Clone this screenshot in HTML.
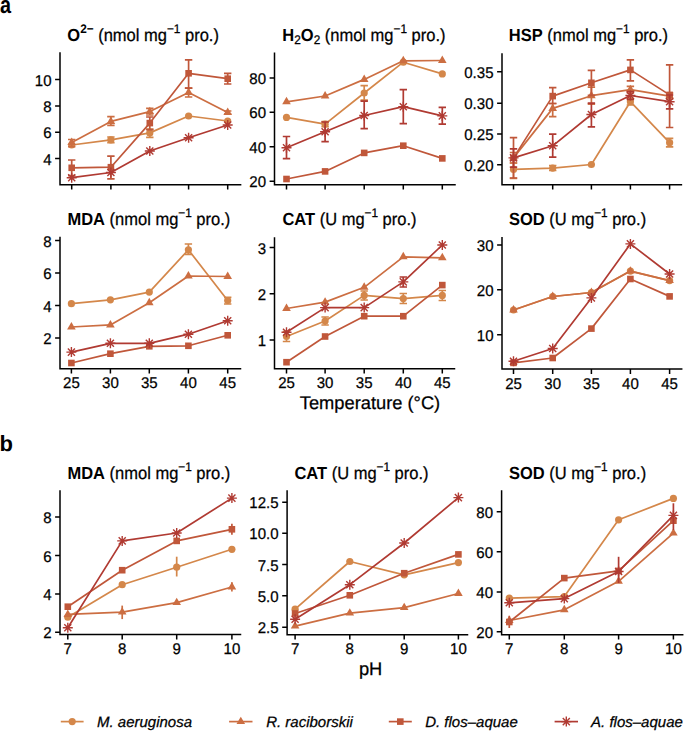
<!DOCTYPE html>
<html><head><meta charset="utf-8"><style>
html,body{margin:0;padding:0;background:#fff;}
svg{display:block;}
text{font-family:"Liberation Sans",sans-serif;fill:#000;text-rendering:geometricPrecision;stroke:#000;stroke-width:0.25px;}
.b{stroke-width:0;}
</style></head><body>
<svg width="685" height="731" viewBox="0 0 685 731">
<rect width="685" height="731" fill="#fff"/>
<text transform="translate(0,12.5) scale(0.9,1.1)" font-size="22" font-weight="bold" class="b">a</text>
<text x="-0.5" y="450.7" font-size="22" font-weight="bold" class="b">b</text>
<path d="M110.90 137.00V142.70" stroke="#D4874A" stroke-width="1.7"/>
<path d="M107.20 137.00H114.60M107.20 142.70H114.60" stroke="#D4874A" stroke-width="1.7"/>
<path d="M149.80 129.00V137.40" stroke="#D4874A" stroke-width="1.7"/>
<path d="M146.10 129.00H153.50M146.10 137.40H153.50" stroke="#D4874A" stroke-width="1.7"/>
<path d="M71.70 145.00 L110.90 139.80 L149.80 132.90 L188.60 116.00 L227.70 121.00" stroke="#D4874A" stroke-width="1.7" fill="none" stroke-linejoin="round"/>
<circle cx="71.70" cy="145.00" r="3.6" fill="#D4874A"/>
<circle cx="110.90" cy="139.80" r="3.6" fill="#D4874A"/>
<circle cx="149.80" cy="132.90" r="3.6" fill="#D4874A"/>
<circle cx="188.60" cy="116.00" r="3.6" fill="#D4874A"/>
<circle cx="227.70" cy="121.00" r="3.6" fill="#D4874A"/>
<path d="M71.70 139.50V146.60" stroke="#CC6E42" stroke-width="1.7"/>
<path d="M68.00 139.50H75.40M68.00 146.60H75.40" stroke="#CC6E42" stroke-width="1.7"/>
<path d="M110.90 116.60V125.40" stroke="#CC6E42" stroke-width="1.7"/>
<path d="M107.20 116.60H114.60M107.20 125.40H114.60" stroke="#CC6E42" stroke-width="1.7"/>
<path d="M149.80 108.40V115.00" stroke="#CC6E42" stroke-width="1.7"/>
<path d="M146.10 108.40H153.50M146.10 115.00H153.50" stroke="#CC6E42" stroke-width="1.7"/>
<path d="M188.60 88.10V97.00" stroke="#CC6E42" stroke-width="1.7"/>
<path d="M184.90 88.10H192.30M184.90 97.00H192.30" stroke="#CC6E42" stroke-width="1.7"/>
<path d="M227.70 111.00V114.00" stroke="#CC6E42" stroke-width="1.7"/>
<path d="M224.00 111.00H231.40M224.00 114.00H231.40" stroke="#CC6E42" stroke-width="1.7"/>
<path d="M71.70 142.50 L110.90 121.40 L149.80 111.60 L188.60 92.40 L227.70 112.50" stroke="#CC6E42" stroke-width="1.7" fill="none" stroke-linejoin="round"/>
<polygon points="71.70,137.53 67.40,144.98 76.00,144.98" fill="#CC6E42"/>
<polygon points="110.90,116.43 106.60,123.88 115.20,123.88" fill="#CC6E42"/>
<polygon points="149.80,106.63 145.50,114.08 154.10,114.08" fill="#CC6E42"/>
<polygon points="188.60,87.43 184.30,94.88 192.90,94.88" fill="#CC6E42"/>
<polygon points="227.70,107.53 223.40,114.98 232.00,114.98" fill="#CC6E42"/>
<path d="M71.70 160.00V175.60" stroke="#C0573A" stroke-width="1.7"/>
<path d="M68.00 160.00H75.40M68.00 175.60H75.40" stroke="#C0573A" stroke-width="1.7"/>
<path d="M110.90 156.10V178.90" stroke="#C0573A" stroke-width="1.7"/>
<path d="M107.20 156.10H114.60M107.20 178.90H114.60" stroke="#C0573A" stroke-width="1.7"/>
<path d="M149.80 117.00V129.70" stroke="#C0573A" stroke-width="1.7"/>
<path d="M146.10 117.00H153.50M146.10 129.70H153.50" stroke="#C0573A" stroke-width="1.7"/>
<path d="M188.60 59.90V88.10" stroke="#C0573A" stroke-width="1.7"/>
<path d="M184.90 59.90H192.30M184.90 88.10H192.30" stroke="#C0573A" stroke-width="1.7"/>
<path d="M227.70 73.30V84.00" stroke="#C0573A" stroke-width="1.7"/>
<path d="M224.00 73.30H231.40M224.00 84.00H231.40" stroke="#C0573A" stroke-width="1.7"/>
<path d="M71.70 167.80 L110.90 167.20 L149.80 123.10 L188.60 73.30 L227.70 78.70" stroke="#C0573A" stroke-width="1.7" fill="none" stroke-linejoin="round"/>
<rect x="68.40" y="164.50" width="6.6" height="6.6" fill="#C0573A"/>
<rect x="107.60" y="163.90" width="6.6" height="6.6" fill="#C0573A"/>
<rect x="146.50" y="119.80" width="6.6" height="6.6" fill="#C0573A"/>
<rect x="185.30" y="70.00" width="6.6" height="6.6" fill="#C0573A"/>
<rect x="224.40" y="75.40" width="6.6" height="6.6" fill="#C0573A"/>
<path d="M71.70 177.70 L110.90 172.50 L149.80 151.00 L188.60 137.70 L227.70 125.00" stroke="#B03A32" stroke-width="1.7" fill="none" stroke-linejoin="round"/>
<path d="M66.70 177.70H76.70M71.70 172.70V182.70M68.16 174.16L75.24 181.24M68.16 181.24L75.24 174.16" stroke="#B03A32" stroke-width="1.4" fill="none"/>
<path d="M105.90 172.50H115.90M110.90 167.50V177.50M107.36 168.96L114.44 176.04M107.36 176.04L114.44 168.96" stroke="#B03A32" stroke-width="1.4" fill="none"/>
<path d="M144.80 151.00H154.80M149.80 146.00V156.00M146.26 147.46L153.34 154.54M146.26 154.54L153.34 147.46" stroke="#B03A32" stroke-width="1.4" fill="none"/>
<path d="M183.60 137.70H193.60M188.60 132.70V142.70M185.06 134.16L192.14 141.24M185.06 141.24L192.14 134.16" stroke="#B03A32" stroke-width="1.4" fill="none"/>
<path d="M222.70 125.00H232.70M227.70 120.00V130.00M224.16 121.46L231.24 128.54M224.16 128.54L231.24 121.46" stroke="#B03A32" stroke-width="1.4" fill="none"/>
<path d="M60.0 53.1V184.7H240.6" stroke="#000" stroke-width="1.5" fill="none" stroke-linecap="square"/>
<path d="M71.7 184.7v4.9M110.9 184.7v4.9M149.8 184.7v4.9M188.6 184.7v4.9M227.7 184.7v4.9M60.0 158.5h-4.9M60.0 132.3h-4.9M60.0 106.0h-4.9M60.0 79.6h-4.9" stroke="#000" stroke-width="1.5"/>
<text transform="translate(51.50,164.60) scale(0.97,1.0)" text-anchor="end" font-size="15.5">4</text>
<text transform="translate(51.50,138.40) scale(0.97,1.0)" text-anchor="end" font-size="15.5">6</text>
<text transform="translate(51.50,112.10) scale(0.97,1.0)" text-anchor="end" font-size="15.5">8</text>
<text transform="translate(51.50,85.70) scale(0.97,1.0)" text-anchor="end" font-size="15.5">10</text>
<text transform="translate(67.3,41) scale(1,1.06)" font-size="16.5"><tspan font-weight="bold" class="b">O</tspan><tspan font-size="11.8" font-weight="bold" class="b" dy="-7.7">2−</tspan><tspan dy="7.7"> (nmol mg</tspan><tspan font-size="11.8" dy="-7.7">−1</tspan><tspan dy="7.7"> pro.)</tspan></text>
<path d="M325.10 121.70V126.70" stroke="#D4874A" stroke-width="1.7"/>
<path d="M321.40 121.70H328.80M321.40 126.70H328.80" stroke="#D4874A" stroke-width="1.7"/>
<path d="M364.20 85.60V100.10" stroke="#D4874A" stroke-width="1.7"/>
<path d="M360.50 85.60H367.90M360.50 100.10H367.90" stroke="#D4874A" stroke-width="1.7"/>
<path d="M286.50 117.40 L325.10 124.20 L364.20 93.00 L403.30 62.20 L442.30 73.90" stroke="#D4874A" stroke-width="1.7" fill="none" stroke-linejoin="round"/>
<circle cx="286.50" cy="117.40" r="3.6" fill="#D4874A"/>
<circle cx="325.10" cy="124.20" r="3.6" fill="#D4874A"/>
<circle cx="364.20" cy="93.00" r="3.6" fill="#D4874A"/>
<circle cx="403.30" cy="62.20" r="3.6" fill="#D4874A"/>
<circle cx="442.30" cy="73.90" r="3.6" fill="#D4874A"/>
<path d="M286.50 101.80 L325.10 96.00 L364.20 79.40 L403.30 60.80 L442.30 60.50" stroke="#CC6E42" stroke-width="1.7" fill="none" stroke-linejoin="round"/>
<polygon points="286.50,96.83 282.20,104.28 290.80,104.28" fill="#CC6E42"/>
<polygon points="325.10,91.03 320.80,98.48 329.40,98.48" fill="#CC6E42"/>
<polygon points="364.20,74.43 359.90,81.88 368.50,81.88" fill="#CC6E42"/>
<polygon points="403.30,55.83 399.00,63.28 407.60,63.28" fill="#CC6E42"/>
<polygon points="442.30,55.53 438.00,62.98 446.60,62.98" fill="#CC6E42"/>
<path d="M286.50 179.00 L325.10 171.40 L364.20 152.90 L403.30 145.70 L442.30 158.40" stroke="#C0573A" stroke-width="1.7" fill="none" stroke-linejoin="round"/>
<rect x="283.20" y="175.70" width="6.6" height="6.6" fill="#C0573A"/>
<rect x="321.80" y="168.10" width="6.6" height="6.6" fill="#C0573A"/>
<rect x="360.90" y="149.60" width="6.6" height="6.6" fill="#C0573A"/>
<rect x="400.00" y="142.40" width="6.6" height="6.6" fill="#C0573A"/>
<rect x="439.00" y="155.10" width="6.6" height="6.6" fill="#C0573A"/>
<path d="M286.50 136.50V158.70" stroke="#B03A32" stroke-width="1.7"/>
<path d="M282.80 136.50H290.20M282.80 158.70H290.20" stroke="#B03A32" stroke-width="1.7"/>
<path d="M325.10 122.00V141.60" stroke="#B03A32" stroke-width="1.7"/>
<path d="M321.40 122.00H328.80M321.40 141.60H328.80" stroke="#B03A32" stroke-width="1.7"/>
<path d="M364.20 101.20V128.70" stroke="#B03A32" stroke-width="1.7"/>
<path d="M360.50 101.20H367.90M360.50 128.70H367.90" stroke="#B03A32" stroke-width="1.7"/>
<path d="M403.30 89.70V123.70" stroke="#B03A32" stroke-width="1.7"/>
<path d="M399.60 89.70H407.00M399.60 123.70H407.00" stroke="#B03A32" stroke-width="1.7"/>
<path d="M442.30 107.30V124.10" stroke="#B03A32" stroke-width="1.7"/>
<path d="M438.60 107.30H446.00M438.60 124.10H446.00" stroke="#B03A32" stroke-width="1.7"/>
<path d="M286.50 147.80 L325.10 131.80 L364.20 115.50 L403.30 106.70 L442.30 115.90" stroke="#B03A32" stroke-width="1.7" fill="none" stroke-linejoin="round"/>
<path d="M281.50 147.80H291.50M286.50 142.80V152.80M282.96 144.26L290.04 151.34M282.96 151.34L290.04 144.26" stroke="#B03A32" stroke-width="1.4" fill="none"/>
<path d="M320.10 131.80H330.10M325.10 126.80V136.80M321.56 128.26L328.64 135.34M321.56 135.34L328.64 128.26" stroke="#B03A32" stroke-width="1.4" fill="none"/>
<path d="M359.20 115.50H369.20M364.20 110.50V120.50M360.66 111.96L367.74 119.04M360.66 119.04L367.74 111.96" stroke="#B03A32" stroke-width="1.4" fill="none"/>
<path d="M398.30 106.70H408.30M403.30 101.70V111.70M399.76 103.16L406.84 110.24M399.76 110.24L406.84 103.16" stroke="#B03A32" stroke-width="1.4" fill="none"/>
<path d="M437.30 115.90H447.30M442.30 110.90V120.90M438.76 112.36L445.84 119.44M438.76 119.44L445.84 112.36" stroke="#B03A32" stroke-width="1.4" fill="none"/>
<path d="M274.5 53.3V184.7H455.0" stroke="#000" stroke-width="1.5" fill="none" stroke-linecap="square"/>
<path d="M286.5 184.7v4.9M325.1 184.7v4.9M364.2 184.7v4.9M403.3 184.7v4.9M442.3 184.7v4.9M274.5 181.2h-4.9M274.5 146.8h-4.9M274.5 112.3h-4.9M274.5 78.0h-4.9" stroke="#000" stroke-width="1.5"/>
<text transform="translate(266.00,187.30) scale(0.97,1.0)" text-anchor="end" font-size="15.5">20</text>
<text transform="translate(266.00,152.90) scale(0.97,1.0)" text-anchor="end" font-size="15.5">40</text>
<text transform="translate(266.00,118.40) scale(0.97,1.0)" text-anchor="end" font-size="15.5">60</text>
<text transform="translate(266.00,84.10) scale(0.97,1.0)" text-anchor="end" font-size="15.5">80</text>
<text transform="translate(282.3,41) scale(1,1.06)" font-size="16.5"><tspan font-weight="bold" class="b">H</tspan><tspan font-size="11.8" dy="2.5">2</tspan><tspan font-weight="bold" class="b" dy="-2.5">O</tspan><tspan font-size="11.8" dy="2.5">2</tspan><tspan dy="-2.5"> (nmol mg</tspan><tspan font-size="11.8" dy="-7.7">−1</tspan><tspan dy="7.7"> pro.)</tspan></text>
<path d="M513.50 163.00V178.40" stroke="#D4874A" stroke-width="1.7"/>
<path d="M509.80 163.00H517.20M509.80 178.40H517.20" stroke="#D4874A" stroke-width="1.7"/>
<path d="M552.70 165.50V170.50" stroke="#D4874A" stroke-width="1.7"/>
<path d="M549.00 165.50H556.40M549.00 170.50H556.40" stroke="#D4874A" stroke-width="1.7"/>
<path d="M630.40 98.50V105.00" stroke="#D4874A" stroke-width="1.7"/>
<path d="M626.70 98.50H634.10M626.70 105.00H634.10" stroke="#D4874A" stroke-width="1.7"/>
<path d="M669.60 138.40V146.90" stroke="#D4874A" stroke-width="1.7"/>
<path d="M665.90 138.40H673.30M665.90 146.90H673.30" stroke="#D4874A" stroke-width="1.7"/>
<path d="M513.50 169.40 L552.70 168.10 L591.40 164.50 L630.40 101.70 L669.60 142.70" stroke="#D4874A" stroke-width="1.7" fill="none" stroke-linejoin="round"/>
<circle cx="513.50" cy="169.40" r="3.6" fill="#D4874A"/>
<circle cx="552.70" cy="168.10" r="3.6" fill="#D4874A"/>
<circle cx="591.40" cy="164.50" r="3.6" fill="#D4874A"/>
<circle cx="630.40" cy="101.70" r="3.6" fill="#D4874A"/>
<circle cx="669.60" cy="142.70" r="3.6" fill="#D4874A"/>
<path d="M513.50 152.50V163.00" stroke="#CC6E42" stroke-width="1.7"/>
<path d="M509.80 152.50H517.20M509.80 163.00H517.20" stroke="#CC6E42" stroke-width="1.7"/>
<path d="M552.70 103.50V116.60" stroke="#CC6E42" stroke-width="1.7"/>
<path d="M549.00 103.50H556.40M549.00 116.60H556.40" stroke="#CC6E42" stroke-width="1.7"/>
<path d="M591.40 87.20V104.10" stroke="#CC6E42" stroke-width="1.7"/>
<path d="M587.70 87.20H595.10M587.70 104.10H595.10" stroke="#CC6E42" stroke-width="1.7"/>
<path d="M630.40 86.30V93.00" stroke="#CC6E42" stroke-width="1.7"/>
<path d="M626.70 86.30H634.10M626.70 93.00H634.10" stroke="#CC6E42" stroke-width="1.7"/>
<path d="M669.60 93.00V99.00" stroke="#CC6E42" stroke-width="1.7"/>
<path d="M665.90 93.00H673.30M665.90 99.00H673.30" stroke="#CC6E42" stroke-width="1.7"/>
<path d="M513.50 157.90 L552.70 108.40 L591.40 95.70 L630.40 89.60 L669.60 96.10" stroke="#CC6E42" stroke-width="1.7" fill="none" stroke-linejoin="round"/>
<polygon points="513.50,152.93 509.20,160.38 517.80,160.38" fill="#CC6E42"/>
<polygon points="552.70,103.43 548.40,110.88 557.00,110.88" fill="#CC6E42"/>
<polygon points="591.40,90.73 587.10,98.18 595.70,98.18" fill="#CC6E42"/>
<polygon points="630.40,84.63 626.10,92.08 634.70,92.08" fill="#CC6E42"/>
<polygon points="669.60,91.13 665.30,98.58 673.90,98.58" fill="#CC6E42"/>
<path d="M513.50 137.70V178.00" stroke="#C0573A" stroke-width="1.7"/>
<path d="M509.80 137.70H517.20M509.80 178.00H517.20" stroke="#C0573A" stroke-width="1.7"/>
<path d="M552.70 87.60V103.50" stroke="#C0573A" stroke-width="1.7"/>
<path d="M549.00 87.60H556.40M549.00 103.50H556.40" stroke="#C0573A" stroke-width="1.7"/>
<path d="M591.40 70.30V95.30" stroke="#C0573A" stroke-width="1.7"/>
<path d="M587.70 70.30H595.10M587.70 95.30H595.10" stroke="#C0573A" stroke-width="1.7"/>
<path d="M630.40 59.80V80.80" stroke="#C0573A" stroke-width="1.7"/>
<path d="M626.70 59.80H634.10M626.70 80.80H634.10" stroke="#C0573A" stroke-width="1.7"/>
<path d="M669.60 64.80V127.50" stroke="#C0573A" stroke-width="1.7"/>
<path d="M665.90 64.80H673.30M665.90 127.50H673.30" stroke="#C0573A" stroke-width="1.7"/>
<path d="M513.50 157.90 L552.70 96.10 L591.40 82.80 L630.40 69.90 L669.60 94.90" stroke="#C0573A" stroke-width="1.7" fill="none" stroke-linejoin="round"/>
<rect x="510.20" y="154.60" width="6.6" height="6.6" fill="#C0573A"/>
<rect x="549.40" y="92.80" width="6.6" height="6.6" fill="#C0573A"/>
<rect x="588.10" y="79.50" width="6.6" height="6.6" fill="#C0573A"/>
<rect x="627.10" y="66.60" width="6.6" height="6.6" fill="#C0573A"/>
<rect x="666.30" y="91.60" width="6.6" height="6.6" fill="#C0573A"/>
<path d="M513.50 148.80V167.10" stroke="#B03A32" stroke-width="1.7"/>
<path d="M509.80 148.80H517.20M509.80 167.10H517.20" stroke="#B03A32" stroke-width="1.7"/>
<path d="M552.70 134.20V157.10" stroke="#B03A32" stroke-width="1.7"/>
<path d="M549.00 134.20H556.40M549.00 157.10H556.40" stroke="#B03A32" stroke-width="1.7"/>
<path d="M591.40 103.10V126.80" stroke="#B03A32" stroke-width="1.7"/>
<path d="M587.70 103.10H595.10M587.70 126.80H595.10" stroke="#B03A32" stroke-width="1.7"/>
<path d="M630.40 91.50V99.50" stroke="#B03A32" stroke-width="1.7"/>
<path d="M626.70 91.50H634.10M626.70 99.50H634.10" stroke="#B03A32" stroke-width="1.7"/>
<path d="M669.60 95.00V108.80" stroke="#B03A32" stroke-width="1.7"/>
<path d="M665.90 95.00H673.30M665.90 108.80H673.30" stroke="#B03A32" stroke-width="1.7"/>
<path d="M513.50 157.90 L552.70 145.80 L591.40 114.50 L630.40 95.50 L669.60 101.70" stroke="#B03A32" stroke-width="1.7" fill="none" stroke-linejoin="round"/>
<path d="M508.50 157.90H518.50M513.50 152.90V162.90M509.96 154.36L517.04 161.44M509.96 161.44L517.04 154.36" stroke="#B03A32" stroke-width="1.4" fill="none"/>
<path d="M547.70 145.80H557.70M552.70 140.80V150.80M549.16 142.26L556.24 149.34M549.16 149.34L556.24 142.26" stroke="#B03A32" stroke-width="1.4" fill="none"/>
<path d="M586.40 114.50H596.40M591.40 109.50V119.50M587.86 110.96L594.94 118.04M587.86 118.04L594.94 110.96" stroke="#B03A32" stroke-width="1.4" fill="none"/>
<path d="M625.40 95.50H635.40M630.40 90.50V100.50M626.86 91.96L633.94 99.04M626.86 99.04L633.94 91.96" stroke="#B03A32" stroke-width="1.4" fill="none"/>
<path d="M664.60 101.70H674.60M669.60 96.70V106.70M666.06 98.16L673.14 105.24M666.06 105.24L673.14 98.16" stroke="#B03A32" stroke-width="1.4" fill="none"/>
<path d="M502.0 53.9V184.7H681.4" stroke="#000" stroke-width="1.5" fill="none" stroke-linecap="square"/>
<path d="M513.5 184.7v4.9M552.7 184.7v4.9M591.4 184.7v4.9M630.4 184.7v4.9M669.6 184.7v4.9M502.0 164.7h-4.9M502.0 133.9h-4.9M502.0 103.2h-4.9M502.0 71.8h-4.9" stroke="#000" stroke-width="1.5"/>
<text transform="translate(493.50,170.80) scale(0.97,1.0)" text-anchor="end" font-size="15.5">0.20</text>
<text transform="translate(493.50,140.00) scale(0.97,1.0)" text-anchor="end" font-size="15.5">0.25</text>
<text transform="translate(493.50,109.30) scale(0.97,1.0)" text-anchor="end" font-size="15.5">0.30</text>
<text transform="translate(493.50,77.90) scale(0.97,1.0)" text-anchor="end" font-size="15.5">0.35</text>
<text transform="translate(508.8,41) scale(1,1.06)" font-size="16.5"><tspan font-weight="bold" class="b">HSP</tspan><tspan> (nmol mg</tspan><tspan font-size="11.8" dy="-7.7">−1</tspan><tspan dy="7.7"> pro.)</tspan></text>
<path d="M188.40 244.00V254.40" stroke="#D4874A" stroke-width="1.7"/>
<path d="M184.70 244.00H192.10M184.70 254.40H192.10" stroke="#D4874A" stroke-width="1.7"/>
<path d="M227.70 297.40V304.00" stroke="#D4874A" stroke-width="1.7"/>
<path d="M224.00 297.40H231.40M224.00 304.00H231.40" stroke="#D4874A" stroke-width="1.7"/>
<path d="M71.40 303.70 L110.40 299.80 L149.30 292.10 L188.40 249.80 L227.70 300.50" stroke="#D4874A" stroke-width="1.7" fill="none" stroke-linejoin="round"/>
<circle cx="71.40" cy="303.70" r="3.6" fill="#D4874A"/>
<circle cx="110.40" cy="299.80" r="3.6" fill="#D4874A"/>
<circle cx="149.30" cy="292.10" r="3.6" fill="#D4874A"/>
<circle cx="188.40" cy="249.80" r="3.6" fill="#D4874A"/>
<circle cx="227.70" cy="300.50" r="3.6" fill="#D4874A"/>
<path d="M71.40 327.00 L110.40 324.90 L149.30 302.80 L188.40 276.00 L227.70 276.50" stroke="#CC6E42" stroke-width="1.7" fill="none" stroke-linejoin="round"/>
<polygon points="71.40,322.03 67.10,329.48 75.70,329.48" fill="#CC6E42"/>
<polygon points="110.40,319.93 106.10,327.38 114.70,327.38" fill="#CC6E42"/>
<polygon points="149.30,297.83 145.00,305.28 153.60,305.28" fill="#CC6E42"/>
<polygon points="188.40,271.03 184.10,278.48 192.70,278.48" fill="#CC6E42"/>
<polygon points="227.70,271.53 223.40,278.98 232.00,278.98" fill="#CC6E42"/>
<path d="M71.40 363.00 L110.40 353.70 L149.30 346.30 L188.40 345.80 L227.70 335.30" stroke="#C0573A" stroke-width="1.7" fill="none" stroke-linejoin="round"/>
<rect x="68.10" y="359.70" width="6.6" height="6.6" fill="#C0573A"/>
<rect x="107.10" y="350.40" width="6.6" height="6.6" fill="#C0573A"/>
<rect x="146.00" y="343.00" width="6.6" height="6.6" fill="#C0573A"/>
<rect x="185.10" y="342.50" width="6.6" height="6.6" fill="#C0573A"/>
<rect x="224.40" y="332.00" width="6.6" height="6.6" fill="#C0573A"/>
<path d="M71.40 352.10 L110.40 343.30 L149.30 343.30 L188.40 334.20 L227.70 320.70" stroke="#B03A32" stroke-width="1.7" fill="none" stroke-linejoin="round"/>
<path d="M66.40 352.10H76.40M71.40 347.10V357.10M67.86 348.56L74.94 355.64M67.86 355.64L74.94 348.56" stroke="#B03A32" stroke-width="1.4" fill="none"/>
<path d="M105.40 343.30H115.40M110.40 338.30V348.30M106.86 339.76L113.94 346.84M106.86 346.84L113.94 339.76" stroke="#B03A32" stroke-width="1.4" fill="none"/>
<path d="M144.30 343.30H154.30M149.30 338.30V348.30M145.76 339.76L152.84 346.84M145.76 346.84L152.84 339.76" stroke="#B03A32" stroke-width="1.4" fill="none"/>
<path d="M183.40 334.20H193.40M188.40 329.20V339.20M184.86 330.66L191.94 337.74M184.86 337.74L191.94 330.66" stroke="#B03A32" stroke-width="1.4" fill="none"/>
<path d="M222.70 320.70H232.70M227.70 315.70V325.70M224.16 317.16L231.24 324.24M224.16 324.24L231.24 317.16" stroke="#B03A32" stroke-width="1.4" fill="none"/>
<path d="M60.0 237.5V368.7H240.5" stroke="#000" stroke-width="1.5" fill="none" stroke-linecap="square"/>
<path d="M71.4 368.7v4.9M110.4 368.7v4.9M149.3 368.7v4.9M188.4 368.7v4.9M227.7 368.7v4.9M60.0 338.1h-4.9M60.0 305.6h-4.9M60.0 273.0h-4.9M60.0 240.4h-4.9" stroke="#000" stroke-width="1.5"/>
<text transform="translate(51.50,344.20) scale(0.97,1.0)" text-anchor="end" font-size="15.5">2</text>
<text transform="translate(51.50,311.70) scale(0.97,1.0)" text-anchor="end" font-size="15.5">4</text>
<text transform="translate(51.50,279.10) scale(0.97,1.0)" text-anchor="end" font-size="15.5">6</text>
<text transform="translate(51.50,246.50) scale(0.97,1.0)" text-anchor="end" font-size="15.5">8</text>
<text transform="translate(71.40,388.30) scale(0.97,1.0)" text-anchor="middle" font-size="15.5">25</text>
<text transform="translate(110.40,388.30) scale(0.97,1.0)" text-anchor="middle" font-size="15.5">30</text>
<text transform="translate(149.30,388.30) scale(0.97,1.0)" text-anchor="middle" font-size="15.5">35</text>
<text transform="translate(188.40,388.30) scale(0.97,1.0)" text-anchor="middle" font-size="15.5">40</text>
<text transform="translate(227.70,388.30) scale(0.97,1.0)" text-anchor="middle" font-size="15.5">45</text>
<text transform="translate(67.4,225) scale(1,1.06)" font-size="16.5"><tspan font-weight="bold" class="b">MDA</tspan><tspan> (nmol mg</tspan><tspan font-size="11.8" dy="-7.7">−1</tspan><tspan dy="7.7"> pro.)</tspan></text>
<path d="M286.50 331.50V341.50" stroke="#D4874A" stroke-width="1.7"/>
<path d="M282.80 331.50H290.20M282.80 341.50H290.20" stroke="#D4874A" stroke-width="1.7"/>
<path d="M325.10 317.00V325.00" stroke="#D4874A" stroke-width="1.7"/>
<path d="M321.40 317.00H328.80M321.40 325.00H328.80" stroke="#D4874A" stroke-width="1.7"/>
<path d="M364.20 291.00V300.00" stroke="#D4874A" stroke-width="1.7"/>
<path d="M360.50 291.00H367.90M360.50 300.00H367.90" stroke="#D4874A" stroke-width="1.7"/>
<path d="M403.30 293.50V303.50" stroke="#D4874A" stroke-width="1.7"/>
<path d="M399.60 293.50H407.00M399.60 303.50H407.00" stroke="#D4874A" stroke-width="1.7"/>
<path d="M442.30 290.50V300.50" stroke="#D4874A" stroke-width="1.7"/>
<path d="M438.60 290.50H446.00M438.60 300.50H446.00" stroke="#D4874A" stroke-width="1.7"/>
<path d="M286.50 336.50 L325.10 321.00 L364.20 295.40 L403.30 298.60 L442.30 295.40" stroke="#D4874A" stroke-width="1.7" fill="none" stroke-linejoin="round"/>
<circle cx="286.50" cy="336.50" r="3.6" fill="#D4874A"/>
<circle cx="325.10" cy="321.00" r="3.6" fill="#D4874A"/>
<circle cx="364.20" cy="295.40" r="3.6" fill="#D4874A"/>
<circle cx="403.30" cy="298.60" r="3.6" fill="#D4874A"/>
<circle cx="442.30" cy="295.40" r="3.6" fill="#D4874A"/>
<path d="M286.50 308.50 L325.10 302.10 L364.20 287.30 L403.30 256.80 L442.30 257.80" stroke="#CC6E42" stroke-width="1.7" fill="none" stroke-linejoin="round"/>
<polygon points="286.50,303.53 282.20,310.98 290.80,310.98" fill="#CC6E42"/>
<polygon points="325.10,297.13 320.80,304.58 329.40,304.58" fill="#CC6E42"/>
<polygon points="364.20,282.33 359.90,289.78 368.50,289.78" fill="#CC6E42"/>
<polygon points="403.30,251.83 399.00,259.28 407.60,259.28" fill="#CC6E42"/>
<polygon points="442.30,252.83 438.00,260.28 446.60,260.28" fill="#CC6E42"/>
<path d="M286.50 362.20 L325.10 336.50 L364.20 316.20 L403.30 316.20 L442.30 285.10" stroke="#C0573A" stroke-width="1.7" fill="none" stroke-linejoin="round"/>
<rect x="283.20" y="358.90" width="6.6" height="6.6" fill="#C0573A"/>
<rect x="321.80" y="333.20" width="6.6" height="6.6" fill="#C0573A"/>
<rect x="360.90" y="312.90" width="6.6" height="6.6" fill="#C0573A"/>
<rect x="400.00" y="312.90" width="6.6" height="6.6" fill="#C0573A"/>
<rect x="439.00" y="281.80" width="6.6" height="6.6" fill="#C0573A"/>
<path d="M403.30 277.00V287.00" stroke="#B03A32" stroke-width="1.7"/>
<path d="M399.60 277.00H407.00M399.60 287.00H407.00" stroke="#B03A32" stroke-width="1.7"/>
<path d="M286.50 332.30 L325.10 307.60 L364.20 307.60 L403.30 281.90 L442.30 245.00" stroke="#B03A32" stroke-width="1.7" fill="none" stroke-linejoin="round"/>
<path d="M281.50 332.30H291.50M286.50 327.30V337.30M282.96 328.76L290.04 335.84M282.96 335.84L290.04 328.76" stroke="#B03A32" stroke-width="1.4" fill="none"/>
<path d="M320.10 307.60H330.10M325.10 302.60V312.60M321.56 304.06L328.64 311.14M321.56 311.14L328.64 304.06" stroke="#B03A32" stroke-width="1.4" fill="none"/>
<path d="M359.20 307.60H369.20M364.20 302.60V312.60M360.66 304.06L367.74 311.14M360.66 311.14L367.74 304.06" stroke="#B03A32" stroke-width="1.4" fill="none"/>
<path d="M398.30 281.90H408.30M403.30 276.90V286.90M399.76 278.36L406.84 285.44M399.76 285.44L406.84 278.36" stroke="#B03A32" stroke-width="1.4" fill="none"/>
<path d="M437.30 245.00H447.30M442.30 240.00V250.00M438.76 241.46L445.84 248.54M438.76 248.54L445.84 241.46" stroke="#B03A32" stroke-width="1.4" fill="none"/>
<path d="M274.5 237.9V368.7H454.5" stroke="#000" stroke-width="1.5" fill="none" stroke-linecap="square"/>
<path d="M286.5 368.7v4.9M325.1 368.7v4.9M364.2 368.7v4.9M403.3 368.7v4.9M442.3 368.7v4.9M274.5 340.0h-4.9M274.5 293.8h-4.9M274.5 247.5h-4.9" stroke="#000" stroke-width="1.5"/>
<text transform="translate(266.00,346.10) scale(0.97,1.0)" text-anchor="end" font-size="15.5">1</text>
<text transform="translate(266.00,299.90) scale(0.97,1.0)" text-anchor="end" font-size="15.5">2</text>
<text transform="translate(266.00,253.60) scale(0.97,1.0)" text-anchor="end" font-size="15.5">3</text>
<text transform="translate(286.50,388.30) scale(0.97,1.0)" text-anchor="middle" font-size="15.5">25</text>
<text transform="translate(325.10,388.30) scale(0.97,1.0)" text-anchor="middle" font-size="15.5">30</text>
<text transform="translate(364.20,388.30) scale(0.97,1.0)" text-anchor="middle" font-size="15.5">35</text>
<text transform="translate(403.30,388.30) scale(0.97,1.0)" text-anchor="middle" font-size="15.5">40</text>
<text transform="translate(442.30,388.30) scale(0.97,1.0)" text-anchor="middle" font-size="15.5">45</text>
<text transform="translate(282.4,225) scale(1,1.06)" font-size="16.5"><tspan font-weight="bold" class="b">CAT</tspan><tspan> (U mg</tspan><tspan font-size="11.8" dy="-7.7">−1</tspan><tspan dy="7.7"> pro.)</tspan></text>
<path d="M513.50 310.00 L552.70 296.50 L591.40 292.50 L630.40 271.10 L669.60 280.60" stroke="#D4874A" stroke-width="1.7" fill="none" stroke-linejoin="round"/>
<circle cx="513.50" cy="310.00" r="3.6" fill="#D4874A"/>
<circle cx="552.70" cy="296.50" r="3.6" fill="#D4874A"/>
<circle cx="591.40" cy="292.50" r="3.6" fill="#D4874A"/>
<circle cx="630.40" cy="271.10" r="3.6" fill="#D4874A"/>
<circle cx="669.60" cy="280.60" r="3.6" fill="#D4874A"/>
<path d="M513.50 310.00 L552.70 296.50 L591.40 292.50 L630.40 271.10 L669.60 280.60" stroke="#CC6E42" stroke-width="1.7" fill="none" stroke-linejoin="round"/>
<polygon points="513.50,305.03 509.20,312.48 517.80,312.48" fill="#CC6E42"/>
<polygon points="552.70,291.53 548.40,298.98 557.00,298.98" fill="#CC6E42"/>
<polygon points="591.40,287.53 587.10,294.98 595.70,294.98" fill="#CC6E42"/>
<polygon points="630.40,266.13 626.10,273.58 634.70,273.58" fill="#CC6E42"/>
<polygon points="669.60,275.63 665.30,283.08 673.90,283.08" fill="#CC6E42"/>
<path d="M513.50 362.90 L552.70 358.00 L591.40 328.60 L630.40 279.00 L669.60 296.40" stroke="#C0573A" stroke-width="1.7" fill="none" stroke-linejoin="round"/>
<rect x="510.20" y="359.60" width="6.6" height="6.6" fill="#C0573A"/>
<rect x="549.40" y="354.70" width="6.6" height="6.6" fill="#C0573A"/>
<rect x="588.10" y="325.30" width="6.6" height="6.6" fill="#C0573A"/>
<rect x="627.10" y="275.70" width="6.6" height="6.6" fill="#C0573A"/>
<rect x="666.30" y="293.10" width="6.6" height="6.6" fill="#C0573A"/>
<path d="M513.50 361.30 L552.70 348.50 L591.40 297.90 L630.40 243.90 L669.60 274.00" stroke="#B03A32" stroke-width="1.7" fill="none" stroke-linejoin="round"/>
<path d="M508.50 361.30H518.50M513.50 356.30V366.30M509.96 357.76L517.04 364.84M509.96 364.84L517.04 357.76" stroke="#B03A32" stroke-width="1.4" fill="none"/>
<path d="M547.70 348.50H557.70M552.70 343.50V353.50M549.16 344.96L556.24 352.04M549.16 352.04L556.24 344.96" stroke="#B03A32" stroke-width="1.4" fill="none"/>
<path d="M586.40 297.90H596.40M591.40 292.90V302.90M587.86 294.36L594.94 301.44M587.86 301.44L594.94 294.36" stroke="#B03A32" stroke-width="1.4" fill="none"/>
<path d="M625.40 243.90H635.40M630.40 238.90V248.90M626.86 240.36L633.94 247.44M626.86 247.44L633.94 240.36" stroke="#B03A32" stroke-width="1.4" fill="none"/>
<path d="M664.60 274.00H674.60M669.60 269.00V279.00M666.06 270.46L673.14 277.54M666.06 277.54L673.14 270.46" stroke="#B03A32" stroke-width="1.4" fill="none"/>
<path d="M502.0 237.8V369.0H681.7" stroke="#000" stroke-width="1.5" fill="none" stroke-linecap="square"/>
<path d="M513.5 369.0v4.9M552.7 369.0v4.9M591.4 369.0v4.9M630.4 369.0v4.9M669.6 369.0v4.9M502.0 334.7h-4.9M502.0 289.7h-4.9M502.0 245.0h-4.9" stroke="#000" stroke-width="1.5"/>
<text transform="translate(493.50,340.80) scale(0.97,1.0)" text-anchor="end" font-size="15.5">10</text>
<text transform="translate(493.50,295.80) scale(0.97,1.0)" text-anchor="end" font-size="15.5">20</text>
<text transform="translate(493.50,251.10) scale(0.97,1.0)" text-anchor="end" font-size="15.5">30</text>
<text transform="translate(513.50,388.60) scale(0.97,1.0)" text-anchor="middle" font-size="15.5">25</text>
<text transform="translate(552.70,388.60) scale(0.97,1.0)" text-anchor="middle" font-size="15.5">30</text>
<text transform="translate(591.40,388.60) scale(0.97,1.0)" text-anchor="middle" font-size="15.5">35</text>
<text transform="translate(630.40,388.60) scale(0.97,1.0)" text-anchor="middle" font-size="15.5">40</text>
<text transform="translate(669.60,388.60) scale(0.97,1.0)" text-anchor="middle" font-size="15.5">45</text>
<text transform="translate(508.9,225) scale(1,1.06)" font-size="16.5"><tspan font-weight="bold" class="b">SOD</tspan><tspan> (U mg</tspan><tspan font-size="11.8" dy="-7.7">−1</tspan><tspan dy="7.7"> pro.)</tspan></text>
<path d="M176.70 556.70V576.50" stroke="#D4874A" stroke-width="1.7"/>
<path d="M67.80 617.20 L122.20 584.70 L176.70 567.20 L231.90 549.30" stroke="#D4874A" stroke-width="1.7" fill="none" stroke-linejoin="round"/>
<circle cx="67.80" cy="617.20" r="3.6" fill="#D4874A"/>
<circle cx="122.20" cy="584.70" r="3.6" fill="#D4874A"/>
<circle cx="176.70" cy="567.20" r="3.6" fill="#D4874A"/>
<circle cx="231.90" cy="549.30" r="3.6" fill="#D4874A"/>
<path d="M122.20 605.60V619.10" stroke="#CC6E42" stroke-width="1.7"/>
<path d="M231.90 582.30V591.60" stroke="#CC6E42" stroke-width="1.7"/>
<path d="M67.80 614.40 L122.20 612.10 L176.70 602.60 L231.90 587.00" stroke="#CC6E42" stroke-width="1.7" fill="none" stroke-linejoin="round"/>
<polygon points="67.80,609.43 63.50,616.88 72.10,616.88" fill="#CC6E42"/>
<polygon points="122.20,607.13 117.90,614.58 126.50,614.58" fill="#CC6E42"/>
<polygon points="176.70,597.63 172.40,605.08 181.00,605.08" fill="#CC6E42"/>
<polygon points="231.90,582.03 227.60,589.48 236.20,589.48" fill="#CC6E42"/>
<path d="M231.90 523.70V534.70" stroke="#C0573A" stroke-width="1.7"/>
<path d="M67.80 606.70 L122.20 570.20 L176.70 540.90 L231.90 529.30" stroke="#C0573A" stroke-width="1.7" fill="none" stroke-linejoin="round"/>
<rect x="64.50" y="603.40" width="6.6" height="6.6" fill="#C0573A"/>
<rect x="118.90" y="566.90" width="6.6" height="6.6" fill="#C0573A"/>
<rect x="173.40" y="537.60" width="6.6" height="6.6" fill="#C0573A"/>
<rect x="228.60" y="526.00" width="6.6" height="6.6" fill="#C0573A"/>
<path d="M67.80 627.70 L122.20 540.90 L176.70 533.00 L231.90 498.10" stroke="#B03A32" stroke-width="1.7" fill="none" stroke-linejoin="round"/>
<path d="M62.80 627.70H72.80M67.80 622.70V632.70M64.26 624.16L71.34 631.24M64.26 631.24L71.34 624.16" stroke="#B03A32" stroke-width="1.4" fill="none"/>
<path d="M117.20 540.90H127.20M122.20 535.90V545.90M118.66 537.36L125.74 544.44M118.66 544.44L125.74 537.36" stroke="#B03A32" stroke-width="1.4" fill="none"/>
<path d="M171.70 533.00H181.70M176.70 528.00V538.00M173.16 529.46L180.24 536.54M173.16 536.54L180.24 529.46" stroke="#B03A32" stroke-width="1.4" fill="none"/>
<path d="M226.90 498.10H236.90M231.90 493.10V503.10M228.36 494.56L235.44 501.64M228.36 501.64L235.44 494.56" stroke="#B03A32" stroke-width="1.4" fill="none"/>
<path d="M60.0 491.0V634.5H240.5" stroke="#000" stroke-width="1.5" fill="none" stroke-linecap="square"/>
<path d="M67.8 634.5v4.9M122.2 634.5v4.9M176.7 634.5v4.9M231.9 634.5v4.9M60.0 632.3h-4.9M60.0 594.0h-4.9M60.0 555.6h-4.9M60.0 516.9h-4.9" stroke="#000" stroke-width="1.5"/>
<text transform="translate(51.50,638.40) scale(0.97,1.0)" text-anchor="end" font-size="15.5">2</text>
<text transform="translate(51.50,600.10) scale(0.97,1.0)" text-anchor="end" font-size="15.5">4</text>
<text transform="translate(51.50,561.70) scale(0.97,1.0)" text-anchor="end" font-size="15.5">6</text>
<text transform="translate(51.50,523.00) scale(0.97,1.0)" text-anchor="end" font-size="15.5">8</text>
<text transform="translate(67.80,654.10) scale(0.97,1.0)" text-anchor="middle" font-size="15.5">7</text>
<text transform="translate(122.20,654.10) scale(0.97,1.0)" text-anchor="middle" font-size="15.5">8</text>
<text transform="translate(176.70,654.10) scale(0.97,1.0)" text-anchor="middle" font-size="15.5">9</text>
<text transform="translate(231.90,654.10) scale(0.97,1.0)" text-anchor="middle" font-size="15.5">10</text>
<text transform="translate(67.4,479) scale(1,1.06)" font-size="16.5"><tspan font-weight="bold" class="b">MDA</tspan><tspan> (nmol mg</tspan><tspan font-size="11.8" dy="-7.7">−1</tspan><tspan dy="7.7"> pro.)</tspan></text>
<path d="M295.10 609.20 L349.80 561.50 L404.20 574.80 L458.40 562.60" stroke="#D4874A" stroke-width="1.7" fill="none" stroke-linejoin="round"/>
<circle cx="295.10" cy="609.20" r="3.6" fill="#D4874A"/>
<circle cx="349.80" cy="561.50" r="3.6" fill="#D4874A"/>
<circle cx="404.20" cy="574.80" r="3.6" fill="#D4874A"/>
<circle cx="458.40" cy="562.60" r="3.6" fill="#D4874A"/>
<path d="M295.10 626.10 L349.80 613.10 L404.20 607.60 L458.40 593.50" stroke="#CC6E42" stroke-width="1.7" fill="none" stroke-linejoin="round"/>
<polygon points="295.10,621.13 290.80,628.58 299.40,628.58" fill="#CC6E42"/>
<polygon points="349.80,608.13 345.50,615.58 354.10,615.58" fill="#CC6E42"/>
<polygon points="404.20,602.63 399.90,610.08 408.50,610.08" fill="#CC6E42"/>
<polygon points="458.40,588.53 454.10,595.98 462.70,595.98" fill="#CC6E42"/>
<path d="M295.10 613.50 L349.80 595.30 L404.20 573.20 L458.40 554.40" stroke="#C0573A" stroke-width="1.7" fill="none" stroke-linejoin="round"/>
<rect x="291.80" y="610.20" width="6.6" height="6.6" fill="#C0573A"/>
<rect x="346.50" y="592.00" width="6.6" height="6.6" fill="#C0573A"/>
<rect x="400.90" y="569.90" width="6.6" height="6.6" fill="#C0573A"/>
<rect x="455.10" y="551.10" width="6.6" height="6.6" fill="#C0573A"/>
<path d="M295.10 619.20 L349.80 584.70 L404.20 543.00 L458.40 497.60" stroke="#B03A32" stroke-width="1.7" fill="none" stroke-linejoin="round"/>
<path d="M290.10 619.20H300.10M295.10 614.20V624.20M291.56 615.66L298.64 622.74M291.56 622.74L298.64 615.66" stroke="#B03A32" stroke-width="1.4" fill="none"/>
<path d="M344.80 584.70H354.80M349.80 579.70V589.70M346.26 581.16L353.34 588.24M346.26 588.24L353.34 581.16" stroke="#B03A32" stroke-width="1.4" fill="none"/>
<path d="M399.20 543.00H409.20M404.20 538.00V548.00M400.66 539.46L407.74 546.54M400.66 546.54L407.74 539.46" stroke="#B03A32" stroke-width="1.4" fill="none"/>
<path d="M453.40 497.60H463.40M458.40 492.60V502.60M454.86 494.06L461.94 501.14M454.86 501.14L461.94 494.06" stroke="#B03A32" stroke-width="1.4" fill="none"/>
<path d="M287.1 491.0V634.7H467.5" stroke="#000" stroke-width="1.5" fill="none" stroke-linecap="square"/>
<path d="M295.1 634.7v4.9M349.8 634.7v4.9M404.2 634.7v4.9M458.4 634.7v4.9M287.1 627.2h-4.9M287.1 595.8h-4.9M287.1 564.6h-4.9M287.1 533.2h-4.9M287.1 502.2h-4.9" stroke="#000" stroke-width="1.5"/>
<text transform="translate(278.60,633.30) scale(0.97,1.0)" text-anchor="end" font-size="15.5">2.5</text>
<text transform="translate(278.60,601.90) scale(0.97,1.0)" text-anchor="end" font-size="15.5">5.0</text>
<text transform="translate(278.60,570.70) scale(0.97,1.0)" text-anchor="end" font-size="15.5">7.5</text>
<text transform="translate(278.60,539.30) scale(0.97,1.0)" text-anchor="end" font-size="15.5">10.0</text>
<text transform="translate(278.60,508.30) scale(0.97,1.0)" text-anchor="end" font-size="15.5">12.5</text>
<text transform="translate(295.10,654.30) scale(0.97,1.0)" text-anchor="middle" font-size="15.5">7</text>
<text transform="translate(349.80,654.30) scale(0.97,1.0)" text-anchor="middle" font-size="15.5">8</text>
<text transform="translate(404.20,654.30) scale(0.97,1.0)" text-anchor="middle" font-size="15.5">9</text>
<text transform="translate(458.40,654.30) scale(0.97,1.0)" text-anchor="middle" font-size="15.5">10</text>
<text transform="translate(294.4,479) scale(1,1.06)" font-size="16.5"><tspan font-weight="bold" class="b">CAT</tspan><tspan> (U mg</tspan><tspan font-size="11.8" dy="-7.7">−1</tspan><tspan dy="7.7"> pro.)</tspan></text>
<path d="M509.30 598.10 L564.30 596.60 L618.60 519.80 L673.40 498.40" stroke="#D4874A" stroke-width="1.7" fill="none" stroke-linejoin="round"/>
<circle cx="509.30" cy="598.10" r="3.6" fill="#D4874A"/>
<circle cx="564.30" cy="596.60" r="3.6" fill="#D4874A"/>
<circle cx="618.60" cy="519.80" r="3.6" fill="#D4874A"/>
<circle cx="673.40" cy="498.40" r="3.6" fill="#D4874A"/>
<path d="M509.30 620.50 L564.30 609.80 L618.60 581.30 L673.40 533.10" stroke="#CC6E42" stroke-width="1.7" fill="none" stroke-linejoin="round"/>
<polygon points="509.30,615.53 505.00,622.98 513.60,622.98" fill="#CC6E42"/>
<polygon points="564.30,604.83 560.00,612.28 568.60,612.28" fill="#CC6E42"/>
<polygon points="618.60,576.33 614.30,583.78 622.90,583.78" fill="#CC6E42"/>
<polygon points="673.40,528.13 669.10,535.58 677.70,535.58" fill="#CC6E42"/>
<path d="M509.30 615.80V628.00" stroke="#C0573A" stroke-width="1.7"/>
<path d="M509.30 622.00 L564.30 578.10 L618.60 570.90 L673.40 520.70" stroke="#C0573A" stroke-width="1.7" fill="none" stroke-linejoin="round"/>
<rect x="506.00" y="618.70" width="6.6" height="6.6" fill="#C0573A"/>
<rect x="561.00" y="574.80" width="6.6" height="6.6" fill="#C0573A"/>
<rect x="615.30" y="567.60" width="6.6" height="6.6" fill="#C0573A"/>
<rect x="670.10" y="517.40" width="6.6" height="6.6" fill="#C0573A"/>
<path d="M618.60 556.80V583.00" stroke="#B03A32" stroke-width="1.7"/>
<path d="M673.40 503.30V530.00" stroke="#B03A32" stroke-width="1.7"/>
<path d="M509.30 602.80 L564.30 598.60 L618.60 571.50 L673.40 515.40" stroke="#B03A32" stroke-width="1.7" fill="none" stroke-linejoin="round"/>
<path d="M504.30 602.80H514.30M509.30 597.80V607.80M505.76 599.26L512.84 606.34M505.76 606.34L512.84 599.26" stroke="#B03A32" stroke-width="1.4" fill="none"/>
<path d="M559.30 598.60H569.30M564.30 593.60V603.60M560.76 595.06L567.84 602.14M560.76 602.14L567.84 595.06" stroke="#B03A32" stroke-width="1.4" fill="none"/>
<path d="M613.60 571.50H623.60M618.60 566.50V576.50M615.06 567.96L622.14 575.04M615.06 575.04L622.14 567.96" stroke="#B03A32" stroke-width="1.4" fill="none"/>
<path d="M668.40 515.40H678.40M673.40 510.40V520.40M669.86 511.86L676.94 518.94M669.86 518.94L676.94 511.86" stroke="#B03A32" stroke-width="1.4" fill="none"/>
<path d="M501.6 491.1V634.7H682.7" stroke="#000" stroke-width="1.5" fill="none" stroke-linecap="square"/>
<path d="M509.3 634.7v4.9M564.3 634.7v4.9M618.6 634.7v4.9M673.4 634.7v4.9M501.6 631.7h-4.9M501.6 591.9h-4.9M501.6 551.8h-4.9M501.6 511.8h-4.9" stroke="#000" stroke-width="1.5"/>
<text transform="translate(493.10,637.80) scale(0.97,1.0)" text-anchor="end" font-size="15.5">20</text>
<text transform="translate(493.10,598.00) scale(0.97,1.0)" text-anchor="end" font-size="15.5">40</text>
<text transform="translate(493.10,557.90) scale(0.97,1.0)" text-anchor="end" font-size="15.5">60</text>
<text transform="translate(493.10,517.90) scale(0.97,1.0)" text-anchor="end" font-size="15.5">80</text>
<text transform="translate(509.30,654.30) scale(0.97,1.0)" text-anchor="middle" font-size="15.5">7</text>
<text transform="translate(564.30,654.30) scale(0.97,1.0)" text-anchor="middle" font-size="15.5">8</text>
<text transform="translate(618.60,654.30) scale(0.97,1.0)" text-anchor="middle" font-size="15.5">9</text>
<text transform="translate(673.40,654.30) scale(0.97,1.0)" text-anchor="middle" font-size="15.5">10</text>
<text transform="translate(508.9,479) scale(1,1.06)" font-size="16.5"><tspan font-weight="bold" class="b">SOD</tspan><tspan> (U mg</tspan><tspan font-size="11.8" dy="-7.7">−1</tspan><tspan dy="7.7"> pro.)</tspan></text>
<text x="370" y="409.2" text-anchor="middle" font-size="18.3">Temperature (°C)</text>
<text x="370.6" y="675.2" text-anchor="middle" font-size="18.3">pH</text>
<path d="M60.8 721.6H83.6" stroke="#D4874A" stroke-width="1.7"/>
<circle cx="72.20" cy="721.60" r="3.6" fill="#D4874A"/>
<text x="97.0" y="727" font-size="15" font-style="italic">M. aeruginosa</text>
<path d="M229.1 721.6H252.5" stroke="#CC6E42" stroke-width="1.7"/>
<polygon points="240.80,716.63 236.50,724.08 245.10,724.08" fill="#CC6E42"/>
<text x="266.2" y="727" font-size="15" font-style="italic">R. raciborskii</text>
<path d="M388.8 721.6H411.8" stroke="#C0573A" stroke-width="1.7"/>
<rect x="397.00" y="718.30" width="6.6" height="6.6" fill="#C0573A"/>
<text x="425.2" y="727" font-size="15" font-style="italic">D. flos–aquae</text>
<path d="M554.6 721.6H578.0" stroke="#B03A32" stroke-width="1.7"/>
<path d="M561.30 721.60H571.30M566.30 716.60V726.60M562.76 718.06L569.84 725.14M562.76 725.14L569.84 718.06" stroke="#B03A32" stroke-width="1.4" fill="none"/>
<text x="591.1" y="727" font-size="15" font-style="italic">A. flos–aquae</text>
</svg>
</body></html>
